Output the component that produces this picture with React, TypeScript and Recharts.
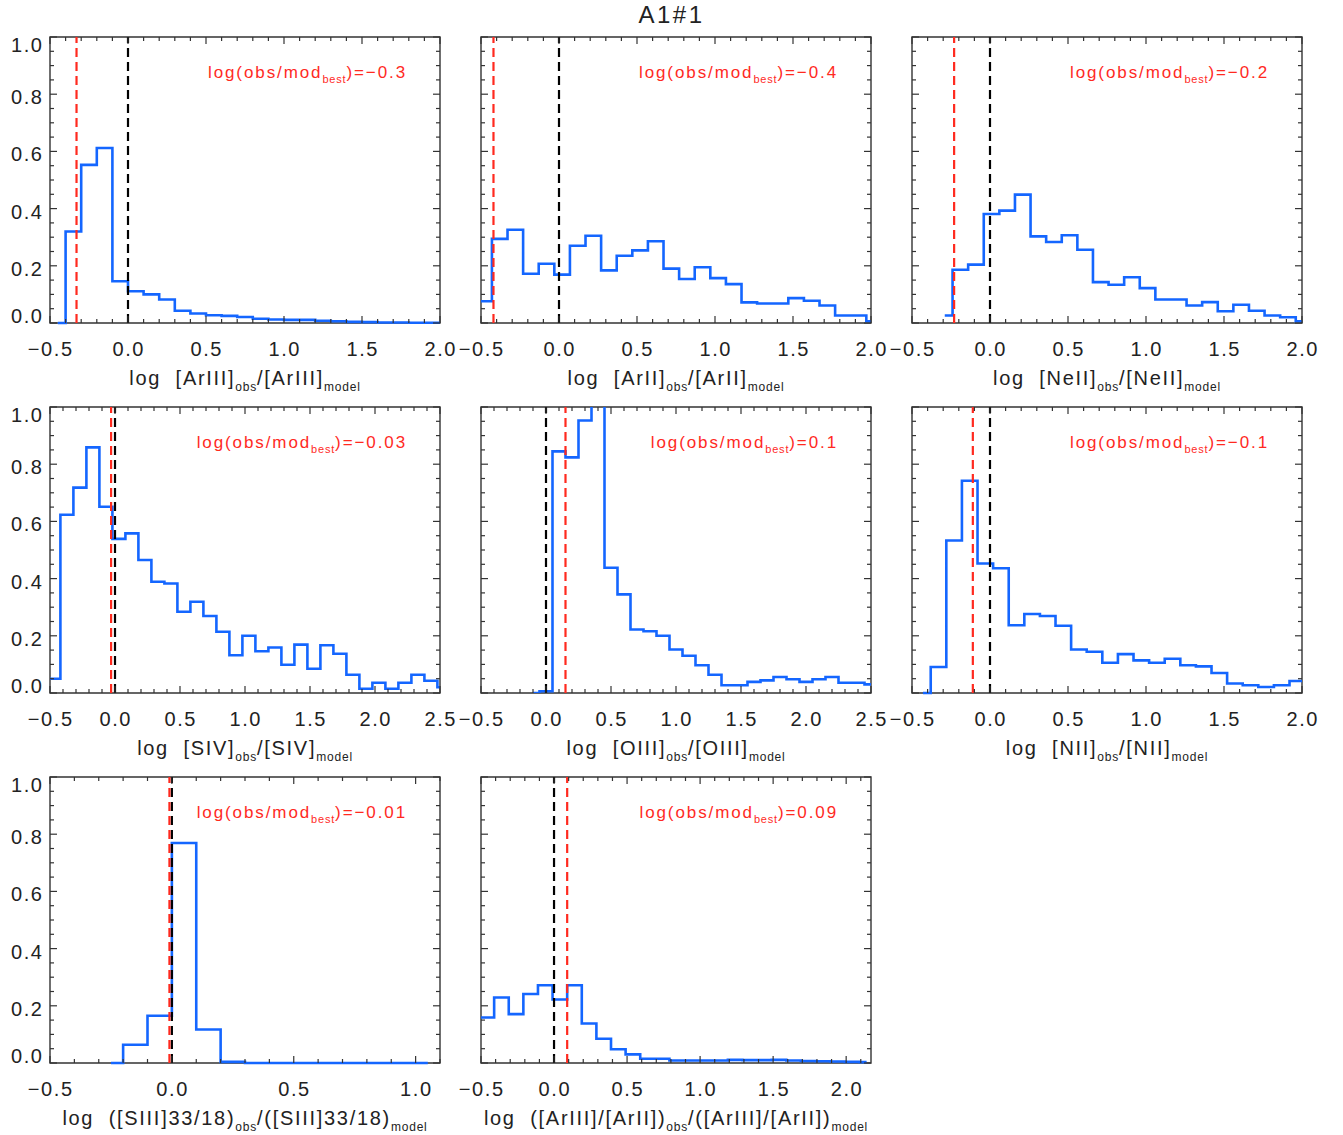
import React from "react"
import { LineChart, Line, XAxis, YAxis, ReferenceLine, ReferenceArea } from "recharts"

// bin edges (left edge of each step, plus the closing edge) and normalised counts
const arIIIEdges = [-0.45, -0.4, -0.3, -0.2, -0.1, 0.0, 0.1, 0.2, 0.3, 0.4, 0.5, 0.6, 0.7, 0.8, 0.9, 1.0, 1.1, 1.2, 1.3, 1.4, 1.5, 1.6, 1.7, 1.8, 1.9, 2.0]
const arIIIValues = [0, 0.32, 0.553, 0.612, 0.146, 0.111, 0.1, 0.082, 0.043, 0.033, 0.027, 0.025, 0.021, 0.015, 0.012, 0.011, 0.011, 0.008, 0.006, 0.004, 0.003, 0.002, 0.002, 0.001, 0.001]

const arIIEdges = [-0.5, -0.43, -0.33, -0.23, -0.13, -0.03, 0.07, 0.17, 0.27, 0.37, 0.47, 0.57, 0.67, 0.77, 0.87, 0.97, 1.07, 1.17, 1.27, 1.37, 1.47, 1.57, 1.67, 1.77, 1.87, 1.97, 2.0]
const arIIValues = [0.076, 0.294, 0.326, 0.172, 0.207, 0.169, 0.27, 0.305, 0.184, 0.235, 0.254, 0.286, 0.19, 0.154, 0.195, 0.157, 0.136, 0.072, 0.068, 0.068, 0.087, 0.078, 0.061, 0.026, 0.026, 0.006]

const neIIEdges = [-0.29, -0.24, -0.14, -0.04, 0.06, 0.16, 0.26, 0.36, 0.46, 0.56, 0.66, 0.76, 0.86, 0.96, 1.06, 1.16, 1.26, 1.36, 1.46, 1.56, 1.66, 1.76, 1.86, 1.96, 2.0]
const neIIValues = [0.026, 0.186, 0.204, 0.381, 0.393, 0.449, 0.303, 0.283, 0.307, 0.256, 0.143, 0.134, 0.16, 0.122, 0.082, 0.082, 0.061, 0.073, 0.041, 0.064, 0.043, 0.026, 0.02, 0.006]

const sIVEdges = [-0.5, -0.42, -0.32, -0.22, -0.12, -0.02, 0.08, 0.18, 0.28, 0.38, 0.48, 0.58, 0.68, 0.78, 0.88, 0.98, 1.08, 1.18, 1.28, 1.38, 1.48, 1.58, 1.68, 1.78, 1.88, 1.98, 2.08, 2.18, 2.28, 2.38, 2.48, 2.5]
const sIVValues = [0.05, 0.623, 0.718, 0.859, 0.651, 0.539, 0.558, 0.465, 0.389, 0.383, 0.284, 0.319, 0.269, 0.214, 0.132, 0.2, 0.146, 0.159, 0.099, 0.169, 0.085, 0.167, 0.137, 0.064, 0.015, 0.036, 0.015, 0.036, 0.064, 0.043, 0.02]

const oIIIEdges = [-0.1, -0.05, 0.05, 0.15, 0.25, 0.35, 0.45, 0.55, 0.65, 0.75, 0.85, 0.95, 1.05, 1.15, 1.25, 1.35, 1.45, 1.55, 1.65, 1.75, 1.85, 1.95, 2.05, 2.15, 2.25, 2.35, 2.45, 2.5]
const oIIIValues = [0, 0.006, 0.845, 0.824, 0.953, 1.2, 0.438, 0.345, 0.222, 0.216, 0.2, 0.152, 0.13, 0.097, 0.064, 0.027, 0.027, 0.039, 0.044, 0.056, 0.048, 0.039, 0.048, 0.056, 0.036, 0.036, 0.03]

const nIIEdges = [-0.43, -0.38, -0.28, -0.18, -0.08, 0.02, 0.12, 0.22, 0.32, 0.42, 0.52, 0.62, 0.72, 0.82, 0.92, 1.02, 1.12, 1.22, 1.32, 1.42, 1.52, 1.62, 1.72, 1.82, 1.92, 2.0]
const nIIValues = [0, 0.091, 0.533, 0.742, 0.453, 0.436, 0.237, 0.276, 0.269, 0.235, 0.152, 0.144, 0.106, 0.136, 0.114, 0.106, 0.12, 0.097, 0.093, 0.07, 0.033, 0.027, 0.021, 0.027, 0.042]

const sIIIEdges = [-0.25, -0.2, -0.1, 0.0, 0.1, 0.2, 0.3, 0.4, 0.5, 0.6, 0.7, 0.8, 0.9, 1.0, 1.05]
const sIIIValues = [0, 0.064, 0.165, 0.769, 0.117, 0.004, 0, 0, 0, 0, 0, 0, 0, 0]

const arRatioEdges = [-0.5, -0.41, -0.31, -0.21, -0.11, -0.01, 0.09, 0.19, 0.29, 0.39, 0.49, 0.59, 0.69, 0.79, 0.89, 0.99, 1.09, 1.19, 1.29, 1.39, 1.49, 1.59, 1.69, 1.79, 1.89, 1.99, 2.09, 2.14]
const arRatioValues = [0.159, 0.229, 0.171, 0.241, 0.272, 0.222, 0.272, 0.138, 0.085, 0.048, 0.03, 0.015, 0.015, 0.009, 0.009, 0.009, 0.009, 0.011, 0.01, 0.01, 0.011, 0.009, 0.007, 0.006, 0.005, 0.004, 0.003]

// best-model offsets (red dashed line) and the printed value
const bestOffsets = [-0.33, -0.42, -0.23, -0.03, 0.15, -0.11, -0.01, 0.09]
const bestLabels = ["−0.3", "−0.4", "−0.2", "−0.03", "0.1", "−0.1", "−0.01", "0.09"]

const xDomains: [number, number][] = [
  [-0.5, 2.0], [-0.5, 2.0], [-0.5, 2.0],
  [-0.5, 2.5], [-0.5, 2.5], [-0.5, 2.0],
  [-0.5, 1.1], [-0.5, 2.17],
]

const BLUE = "#1466ff"
const RED = "#ff2a1f"
const INK = "#222"
const FONT = "'Liberation Sans', Arial, sans-serif"
const SPACING = 1.6

const PLOT_W = 390
const PLOT_H = 286
const AXIS_W = 50
const TOP = 37
const BOTTOM = 70
const RIGHT = 40

const colLefts = [50, 481, 912]
const rowTops = [37, 407, 777]

function stepTicks(lo: number, hi: number, step: number) {
  const out: number[] = []
  const start = Math.ceil(lo / step - 1e-6)
  const end = Math.floor(hi / step + 1e-6)
  for (let i = start; i <= end; i++) out.push(Math.round(i * step * 1000) / 1000)
  return out
}

const isMultiple = (v: number, m: number) => Math.abs(v / m - Math.round(v / m)) < 1e-6
const fmt = (v: number) => v.toFixed(1).replace("-", "−")

function XTick(props: any) {
  const { x, y, payload } = props
  const major = isMultiple(payload.value, 0.5)
  const len = major ? 7 : 4
  return (
    <g>
      <line x1={x} x2={x} y1={y} y2={y - len} stroke="#333" strokeWidth={1.2} />
      <line x1={x} x2={x} y1={y - PLOT_H} y2={y - PLOT_H + len} stroke="#333" strokeWidth={1.2} />
      {major && (
        <text
          x={x + SPACING / 2}
          y={y + 26}
          textAnchor="middle"
          dominantBaseline="central"
          fontSize={20}
          letterSpacing={SPACING}
          fill={INK}
          fontFamily={FONT}
        >
          {fmt(payload.value)}
        </text>
      )}
    </g>
  )
}

function YTick(props: any) {
  const { x, y, payload, showLabels } = props
  const major = isMultiple(payload.value, 0.2)
  const len = major ? 7 : 4
  const dy = payload.value >= 0.999 ? 8 : payload.value <= 0.001 ? -7 : 3
  return (
    <g>
      <line x1={x} x2={x + len} y1={y} y2={y} stroke="#333" strokeWidth={1.2} />
      <line x1={x + PLOT_W} x2={x + PLOT_W - len} y1={y} y2={y} stroke="#333" strokeWidth={1.2} />
      {major && showLabels && (
        <text
          x={x - 8 + SPACING}
          y={y + dy}
          textAnchor="end"
          dominantBaseline="central"
          fontSize={20}
          letterSpacing={SPACING}
          fill={INK}
          fontFamily={FONT}
        >
          {payload.value.toFixed(1)}
        </text>
      )}
    </g>
  )
}

const Sub = ({ children, size = 12, drop = 6 }: { children: React.ReactNode; size?: number; drop?: number }) => (
  <span style={{ fontSize: size, position: "relative", top: drop, letterSpacing: 0.8 }}>{children}</span>
)

interface PanelProps {
  col: number
  row: number
  edges: number[]
  values: number[]
  domain: [number, number]
  best: number
  bestLabel: string
  title: React.ReactNode
  clip?: boolean
}

function Panel({ col, row, edges, values, domain, best, bestLabel, title, clip }: PanelProps) {
  const left = colLefts[col]
  const top = rowTops[row]
  const data = edges.map((x, i) => ({ x, y: values[Math.min(i, values.length - 1)] }))
  const xTicks = stepTicks(domain[0], domain[1], 0.1)
  const yTicks = stepTicks(0, 1, 0.05)
  const showLabels = col === 0

  return (
    <>
      <div style={{ position: "absolute", left: left - AXIS_W, top: top - TOP }}>
        <LineChart
          width={AXIS_W + PLOT_W + RIGHT}
          height={TOP + PLOT_H + BOTTOM}
          data={data}
          margin={{ top: TOP, right: RIGHT, bottom: 0, left: 0 }}
          style={{ overflow: "visible" }}
        >
          <XAxis
            type="number"
            dataKey="x"
            domain={domain}
            ticks={xTicks}
            interval={0}
            height={BOTTOM}
            tickSize={0}
            tickMargin={0}
            tickLine={false}
            axisLine={false}
            tick={(p: any) => <XTick {...p} />}
          />
          <YAxis
            type="number"
            domain={[0, 1]}
            ticks={yTicks}
            interval={0}
            width={AXIS_W}
            tickSize={0}
            tickMargin={0}
            tickLine={false}
            axisLine={false}
            allowDataOverflow={!!clip}
            tick={(p: any) => <YTick {...p} showLabels={showLabels} />}
          />
          <ReferenceArea x1={domain[0]} x2={domain[1]} y1={0} y2={1} fill="none" fillOpacity={0} stroke="#333" strokeWidth={1.4} />
          <Line type="stepAfter" dataKey="y" stroke={BLUE} strokeWidth={2.6} dot={false} activeDot={false} isAnimationActive={false} />
          <ReferenceLine x={0} stroke="#000" strokeWidth={2.2} strokeDasharray="9 5" />
          <ReferenceLine x={best} stroke={RED} strokeWidth={2.2} strokeDasharray="9 5" />
        </LineChart>
      </div>
      <div
        style={{
          position: "absolute",
          left: left - 40,
          top: top + 24,
          width: PLOT_W - 33 + 40,
          textAlign: "right",
          color: RED,
          fontSize: 17,
          lineHeight: "24px",
          letterSpacing: 1.9,
          whiteSpace: "nowrap",
        }}
      >
        log(obs/mod<Sub size={11} drop={5}>best</Sub>)={bestLabel}
      </div>
      <div
        style={{
          position: "absolute",
          left: left - 80,
          top: top + PLOT_H + 42,
          width: PLOT_W + 160,
          textAlign: "center",
          color: INK,
          fontSize: 20,
          lineHeight: "26px",
          letterSpacing: 1.7,
          whiteSpace: "pre",
        }}
      >
        {title}
      </div>
    </>
  )
}

const line = (ion: string) => (
  <>
    {"log  "}[{ion}]<Sub>obs</Sub>/[{ion}]<Sub>model</Sub>
  </>
)

export default function App() {
  return (
    <div
      style={{
        position: "absolute",
        left: 0,
        top: 0,
        width: 1343,
        height: 1135,
        background: "#fff",
        fontFamily: FONT,
        overflow: "hidden",
      }}
    >
      <div
        style={{
          position: "absolute",
          left: 0,
          top: 0,
          width: 1343,
          textAlign: "center",
          fontSize: 24,
          lineHeight: "30px",
          letterSpacing: 2.5,
          color: INK,
        }}
      >
        A1#1
      </div>
      <Panel col={0} row={0} edges={arIIIEdges} values={arIIIValues} domain={xDomains[0]} best={bestOffsets[0]} bestLabel={bestLabels[0]} title={line("ArIII")} />
      <Panel col={1} row={0} edges={arIIEdges} values={arIIValues} domain={xDomains[1]} best={bestOffsets[1]} bestLabel={bestLabels[1]} title={line("ArII")} />
      <Panel col={2} row={0} edges={neIIEdges} values={neIIValues} domain={xDomains[2]} best={bestOffsets[2]} bestLabel={bestLabels[2]} title={line("NeII")} />
      <Panel col={0} row={1} edges={sIVEdges} values={sIVValues} domain={xDomains[3]} best={bestOffsets[3]} bestLabel={bestLabels[3]} title={line("SIV")} />
      <Panel col={1} row={1} edges={oIIIEdges} values={oIIIValues} domain={xDomains[4]} best={bestOffsets[4]} bestLabel={bestLabels[4]} title={line("OIII")} clip />
      <Panel col={2} row={1} edges={nIIEdges} values={nIIValues} domain={xDomains[5]} best={bestOffsets[5]} bestLabel={bestLabels[5]} title={line("NII")} />
      <Panel
        col={0}
        row={2}
        edges={sIIIEdges}
        values={sIIIValues}
        domain={xDomains[6]}
        best={bestOffsets[6]}
        bestLabel={bestLabels[6]}
        title={
          <>
            {"log  "}([SIII]33/18)<Sub>obs</Sub>/([SIII]33/18)<Sub>model</Sub>
          </>
        }
      />
      <Panel
        col={1}
        row={2}
        edges={arRatioEdges}
        values={arRatioValues}
        domain={xDomains[7]}
        best={bestOffsets[7]}
        bestLabel={bestLabels[7]}
        title={
          <>
            {"log  "}([ArIII]/[ArII])<Sub>obs</Sub>/([ArIII]/[ArII])<Sub>model</Sub>
          </>
        }
      />
    </div>
  )
}
